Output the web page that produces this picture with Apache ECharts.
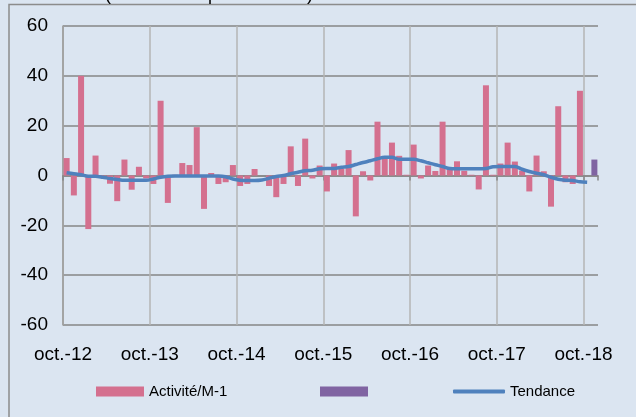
<!DOCTYPE html>
<html><head><meta charset="utf-8">
<script src="https://cdn.jsdelivr.net/npm/echarts@6/dist/echarts.min.js"></script>
<style>html,body{margin:0;padding:0;background:#DBE5F1}#c{width:636px;height:417px}</style>
</head><body><div id="c"></div>
<script>
// Monthly categories oct.-12 .. nov.-18
const monthNames = ['janv.','févr.','mars','avr.','mai','juin','juil.','août','sept.','oct.','nov.','déc.'];
const categories = [];
for (let i = 0; i < 74; i++) { const m = (9 + i) % 12; const y = 12 + Math.floor((9 + i) / 12); categories.push(monthNames[m] + '-' + y); }

const xTickLabels = ['oct.-12','oct.-13','oct.-14','oct.-15','oct.-16','oct.-17','oct.-18'];

const activite = [7,-8,40,-21.5,8,-0.5,-3.3,-10.3,6.4,-5.7,3.5,-1.2,
  -3.4,30,-11,0.3,5,4.2,19.4,-13.4,1,-3.4,-2.7,4.2,
  -4.2,-3.4,2.6,0,-4.2,-8.7,-3.4,11.7,-4.2,14.8,-1.2,4,
  -6.4,4.8,2.6,10.2,-16.4,1.7,-2,21.6,7.2,13.2,7.9,0.3,
  12.4,-1.2,4,1.8,21.6,2.7,5.7,1.9,0.3,-5.6,36.2,0.3,
  4.8,13.2,5.6,2,-6.4,8,1.7,-12.5,27.8,-2.7,-3.4,34,
  null,null];
const dernier = [null,null,null,null,null,null,null,null,null,null,null,null,
  null,null,null,null,null,null,null,null,null,null,null,null,
  null,null,null,null,null,null,null,null,null,null,null,null,
  null,null,null,null,null,null,null,null,null,null,null,null,
  null,null,null,null,null,null,null,null,null,null,null,null,
  null,null,null,null,null,null,null,null,null,null,null,null,
  null,6.4];
const tendance = [1.1,0.7,0.3,-0.3,-0.3,-0.7,-1.2,-1.6,-1.9,-1.9,-1.9,-1.9,
  -1.4,-0.7,-0.3,-0.2,-0.2,-0.2,-0.2,-0.2,-0.2,-0.2,-0.5,-1.4,
  -1.9,-2,-2,-1.8,-1.1,-0.4,0,0.7,1.3,1.9,2.1,2.7,
  2.8,2.8,3.3,3.6,4.4,5.2,5.9,6.7,7.3,7.3,6.5,6.5,
  6.5,5.9,5.1,4.3,3.6,2.8,2.7,2.7,2.7,2.7,2.8,3.5,
  3.6,3.6,3.6,2.5,1.6,0.9,0.3,-0.7,-1.5,-1.9,-2,-2.5,
  -2.7,null];

const chart = echarts.init(document.getElementById('c'), null, {renderer:'canvas'});
const font = '"Liberation Sans", Arial, sans-serif';
chart.setOption({
  animation: false,
  backgroundColor: '#DBE5F1',
  textStyle: {fontFamily: font},
  graphic: [
    {type:'rect', shape:{x:9, y:4.5, width:700, height:500}, style:{fill:'none', stroke:'#8C8C8C', lineWidth:1.5}, z:-1},
    {type:'text', left:105, top:-14, style:{text:'(en solde d\u2019opinions CVS)', font:'18px ' + font, fill:'#000'}}
  ],
  grid: {left:63, right:38, top:26, bottom:92},
  xAxis: [
    {type:'category', data:categories, position:'top', boundaryGap:true,
     axisLine:{onZero:true, lineStyle:{color:'#868686', width:1.5}},
     axisTick:{show:true, inside:true, length:5, interval:function(i){ return i % 12 === 0; }, lineStyle:{color:'#868686', width:1.5}},
     axisLabel:{show:false}, splitLine:{show:false}},
    {type:'value', position:'bottom', min:0, max:74, interval:12,
     axisLine:{show:false, onZero:false}, axisTick:{show:false},
     axisLabel:{formatter:function(v){ const k = v/12; return Number.isInteger(k) && xTickLabels[k] ? xTickLabels[k] : ''; },
                color:'#000', fontSize:19, margin:20, showMaxLabel:false, fontFamily:font},
     splitLine:{show:true, showMaxLine:false, lineStyle:{color:'#B4B4B4', width:1.5}}}
  ],
  yAxis: {type:'value', min:-60, max:60, interval:20,
    axisLine:{show:true, onZero:false, lineStyle:{color:'#9A9A9A', width:1.5}}, axisTick:{show:false},
    axisLabel:{color:'#000', fontSize:19, margin:15, fontFamily:font},
    splitLine:{lineStyle:{color:'#868686', width:1.5}}},
  legend: [
    {data:['Activité/M-1'], left:91, top:379, itemWidth:48, itemHeight:10, icon:'rect',
     textStyle:{fontSize:15, color:'#000', fontFamily:font}},
    {data:[' '], left:315, top:379, itemWidth:48, itemHeight:10, icon:'rect',
     textStyle:{fontSize:15, color:'#000'}},
    {data:[{name:'Tendance', icon:'roundRect'}], left:448, top:379, itemWidth:52, itemHeight:4,
     itemStyle:{color:'#4F81BD'},
     textStyle:{fontSize:15, color:'#000', fontFamily:font}}
  ],
  series: [
    {name:'Activité/M-1', type:'bar', xAxisIndex:0, data:activite, barWidth:6, barGap:'-100%',
     itemStyle:{color:'#D4708F'}},
    {name:' ', type:'bar', xAxisIndex:0, data:dernier, barWidth:6, barGap:'-100%',
     itemStyle:{color:'#8064A2'}},
    {name:'Tendance', type:'line', xAxisIndex:0, data:tendance, symbol:'none', smooth:0.3,
     lineStyle:{color:'#4F81BD', width:3.5}, itemStyle:{color:'#4F81BD'}, z:5}
  ]
});
</script></body></html>
